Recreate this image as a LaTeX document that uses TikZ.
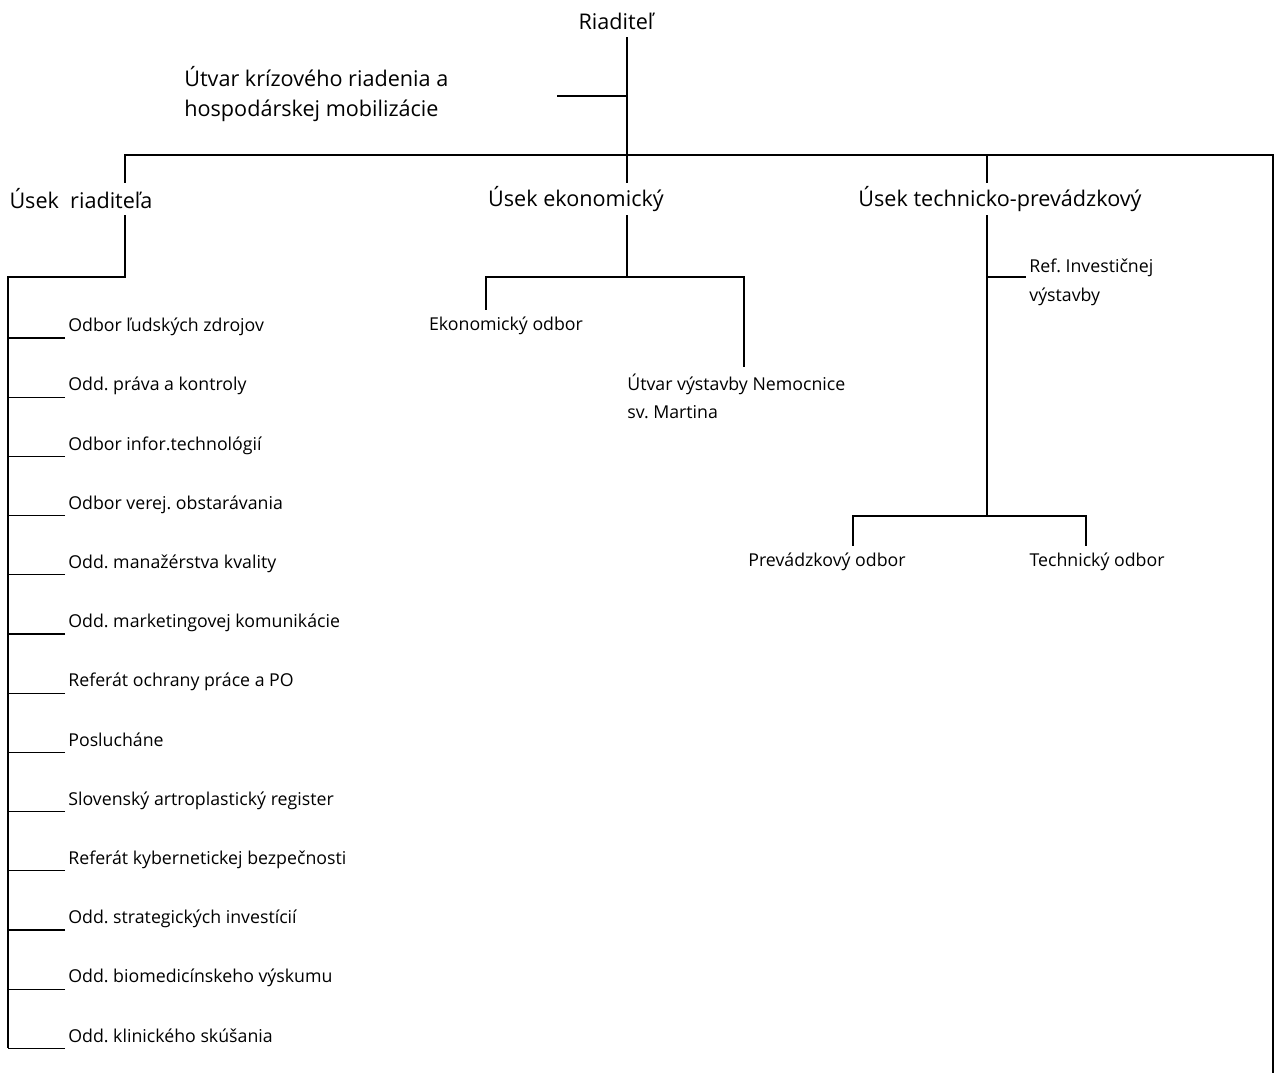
\documentclass[tikz,border=0pt]{standalone}
\usepackage{fontspec}
\setmainfont{Open Sans}
\usetikzlibrary{positioning}
\frenchspacing

\tikzset{
  usek/.style={font=\fontsize{12.3}{17.6}\selectfont, inner sep=0pt, minimum height=0.64cm},
  odbor/.style={font=\fontsize{10.1}{16}\selectfont, inner sep=0pt, minimum height=0.64cm},
  zoznam/.style={font=\fontsize{10.1}{16}\selectfont, inner xsep=0.06cm, inner ysep=0pt, text depth=0.12cm, anchor=south west},
  spoj/.style={line width=0.7pt, black},
}

\begin{document}
\begin{tikzpicture}[x=0.02cm, y=-0.02cm]
  \useasboundingbox (0,0) rectangle (1277,1073);

  % Riaditel a utvar pri nom
  \node[usek] (riad) at (616,21) {Riaditeľ};
  \node[usek, anchor=west, align=left] (kriz) at (184,94) {Útvar krízového riadenia a\\hospodárskej mobilizácie};

  % body zbernice
  \coordinate (mid) at (627,155);
  \coordinate (lb) at (125,155);
  \coordinate (tb) at (987,155);
  \coordinate (rb) at (1273,155);
  \coordinate (rbot) at (1273,1073);
  \coordinate (kb) at (557,96);

  % useky
  \node[usek] (usekR) at (81,199) {Úsek~~riaditeľa};
  \node[usek] (usekE) at (576,199) {Úsek ekonomický};
  \node[usek] (usekT) at (1000,199) {Úsek technicko-prevádzkový};

  \draw[spoj] (riad.south -| mid) -- (usekE.north -| mid);
  \draw[spoj] (kb) -- (kb -| mid);
  \draw[spoj] (usekR.north -| lb) -- (lb) -- (rb) -- (rbot);
  \draw[spoj] (tb) -- (usekT.north -| tb);

  % usek riaditela
  \coordinate (la) at (125,277);
  \coordinate (lc) at (8,277);
  \foreach \t [count=\i] in {Odbor ľudských zdrojov, Odd. práva a kontroly,
      Odbor infor.technológií, Odbor verej. obstarávania, Odd. manažérstva kvality,
      Odd. marketingovej komunikácie, Referát ochrany práce a PO, Poslucháne,
      Slovenský artroplastický register, Referát kybernetickej bezpečnosti,
      Odd. strategických investícií, Odd. biomedicínskeho výskumu,
      Odd. klinického skúšania}
  {
    \node[zoznam] (o\i) at (65,{338+59.2*(\i-1)}) {\t};
    \draw[spoj] (o\i.south west) -- (o\i.south west -| lc);
  }
  \draw[spoj] (usekR.south -| la) -- (la) -- (lc) -- (lc |- o13.south west);

  % usek ekonomicky
  \coordinate (ej) at (627,277);
  \coordinate (el) at (486,277);
  \coordinate (er) at (744,277);
  \node[odbor] (ekod) at (506,326) {Ekonomický odbor};
  \node[odbor, anchor=north west, align=left, inner ysep=0.14cm, font=\fontsize{10.1}{16}\selectfont] (utv) at (627,367) {Útvar výstavby Nemocnice\\sv. Martina};
  \draw[spoj] (usekE.south -| ej) -- (ej);
  \draw[spoj] (el |- ekod.north) -- (el) -- (er) -- (er |- utv.north);

  % usek technicko-prevadzkovy
  \coordinate (rj) at (987,277);
  \coordinate (tj) at (987,516);
  \coordinate (pl) at (853,516);
  \coordinate (pr) at (1086,516);
  \node[odbor, anchor=west, align=left, inner xsep=0.06cm, font=\fontsize{10.1}{16.5}\selectfont] (ref) at (1026,282) {Ref. Investičnej\\výstavby};
  \node[odbor] (prev) at (827,562) {Prevádzkový odbor};
  \node[odbor] (tech) at (1097,562) {Technický odbor};
  \draw[spoj] (usekT.south -| tj) -- (tj);
  \draw[spoj] (rj) -- (rj -| ref.west);
  \draw[spoj] (pl |- prev.north) -- (pl) -- (pr) -- (pr |- tech.north);
\end{tikzpicture}
\end{document}
